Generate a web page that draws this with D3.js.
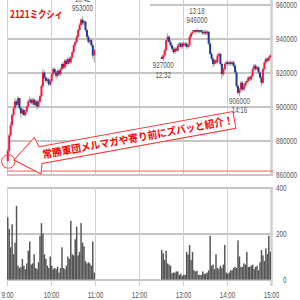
<!DOCTYPE html>
<html>
<head>
<meta charset="utf-8">
<script src="https://cdn.jsdelivr.net/npm/d3@7"></script>
<style>
body { margin: 0; background: #fff; }
svg { display: block; }
.ax text { font-family: "Liberation Sans", sans-serif; font-size: 8.5px; fill: #555; }
</style>
</head>
<body>
<script>
// measurements for the chart
const m = {
    width: 300,
    height: 300,
    left: 7,      // 9:00
    right: 271,   // 15:00
    priceTop: 4.5,
    priceBottom: 174.5,
    volTop: 187.5,
    volBottom: 279.5
}

// prices in thousands of yen, 2 minute candles
const barMinutes = 2
const amStart = 0     // minutes after 9:00
const pmStart = 210   // 12:30

const amOpen  = [868,874,883,889,895,899,903,901,905,899,896,898,895,897,900,903,904,902,904,901,903,900,903,906,912,920,917,915,916,913,915,919,922,920,918,921,919,922,925,923,927,925,928,926,929,932,936,938,941,945,948,951,949,950,945,941,938,939,936,930]
const amHigh  = [875,884,891,896,900,905,904,906,905,900,899,899,898,901,904,906,905,905,905,904,904,904,907,913,922,921,918,917,917,916,920,923,923,921,922,922,923,926,926,928,928,929,929,930,933,937,939,942,946,949,952,953,951,950,946,942,940,940,937,934]
const amLow   = [867,873,882,888,894,898,900,900,898,893,895,894,894,896,899,902,901,901,900,900,898,899,902,905,911,916,914,914,912,912,914,918,919,916,917,918,918,921,922,922,924,924,925,925,928,931,935,937,940,944,947,948,947,944,940,937,937,935,928,926]
const amClose = [874,883,889,895,899,903,901,905,899,896,898,895,897,900,903,904,902,904,901,903,900,903,906,912,920,917,915,916,913,915,919,922,920,918,921,919,922,925,923,927,925,928,926,929,932,936,938,941,945,948,951,949,950,945,941,938,939,936,930,933]
const amVolume = [270,220,140,240,110,160,320,60,50,55,90,60,45,70,125,165,65,70,110,50,45,75,190,245,200,110,90,60,50,100,60,45,50,45,55,30,50,140,50,45,60,100,90,255,110,105,175,230,105,120,245,160,145,80,70,75,70,60,165,30]

const pmOpen  = [929,928,930,933,939,941,938,936,934,932,934,933,936,937,935,937,936,937,935,936,941,943,944,945,944,945,944,945,944,943,944,943,944,937,931,928,925,927,926,930,931,925,919,922,925,926,925,926,925,926,924,920,912,908,910,914,910,912,914,915,917,916,918,922,924,922,923,920,917,914,922,926,928,927,929]
const pmHigh  = [930,931,934,939,943,942,939,937,935,935,935,937,938,938,938,938,938,938,937,942,944,945,945,945,946,945,945,945,945,945,945,945,944,938,932,929,928,928,931,932,931,926,923,926,927,927,927,927,927,927,925,921,913,911,915,915,913,915,916,918,918,919,923,925,925,924,924,921,918,923,927,929,929,930,931]
const pmLow   = [928,927,929,932,938,937,935,933,931,931,932,932,935,934,934,935,935,934,934,935,940,942,943,943,943,943,943,943,942,942,942,942,936,930,927,923,924,925,925,929,924,916,918,921,924,924,924,924,924,923,919,911,907,906,909,909,909,911,913,914,915,915,917,921,921,921,919,916,912,913,921,925,926,926,928]
const pmClose = [928,930,933,939,941,938,936,934,932,934,933,936,937,935,937,936,937,935,936,941,943,944,945,944,945,944,945,944,943,944,943,944,937,931,928,925,927,926,930,931,925,919,922,925,926,925,926,925,926,924,920,912,908,910,914,910,912,914,915,917,916,918,922,924,922,923,920,917,914,922,926,928,927,929,930]
const pmVolume = [128,114,85,125,70,65,60,27,30,30,35,35,20,25,15,20,20,120,108,150,85,120,40,35,38,20,20,20,35,25,25,30,40,190,60,65,45,110,50,45,60,50,65,150,30,25,30,40,40,50,55,50,170,100,55,55,70,65,120,55,55,60,65,45,55,60,40,75,128,105,80,135,110,190,120]

// axis ticks
const priceTicks = [860, 880, 900, 920, 940, 960]
const volumeTicks = [0, 200, 400]
const hourTicks = [0, 60, 120, 180, 240, 300, 360]
const hourLabels = ['9:00', '10:00', '11:00', '12:00', '13:00', '14:00', '15:00']
const refPrice = 862

// high / low marks
const markTimes = ['10:42', '13:18', '12:32', '14:16']
const markPrices = [953, 946, 927, 906]
const markSides = ['above', 'above', 'below', 'below']

const title = '2121ミクシィ'
const banner = '常勝軍団メルマガや寄り前にズバッと紹介！'

const candles = []
amOpen.forEach((o, i) => candles.push({ t: amStart + i * barMinutes, o, h: amHigh[i], l: amLow[i], c: amClose[i], v: amVolume[i] }))
pmOpen.forEach((o, i) => candles.push({ t: pmStart + i * barMinutes, o, h: pmHigh[i], l: pmLow[i], c: pmClose[i], v: pmVolume[i] }))

const svg = d3.select('body').append('svg')
    .attr('width', m.width)
    .attr('height', m.height)

// squeeze a text horizontally to a given width, around its own x
const squeeze = (sel, widthOf) => sel.each(function () {
    const s = this.textContent
    if (!s) return
    const k = widthOf(s) / this.getComputedTextLength()
    const x0 = +this.getAttribute('x') || 0
    d3.select(this).attr('transform', `translate(${x0},0) scale(${k},1) translate(${-x0},0)`)
})
// the narrow digits of the original
const digitWidth = s => {
    const colons = s.split(':').length - 1
    return (s.length - colons) * 3.5 + colons * 1.6
}

// scales
const x = d3.scaleLinear().domain([0, 360]).range([m.left, m.right])
const yPrice = d3.scaleLinear().domain([860, 960]).range([m.priceBottom, m.priceTop])
const yVol = d3.scaleLinear().domain([0, 400]).range([m.volBottom, m.volTop])
const bw = x(barMinutes) - x(0)

// horizontal grid + price labels
const gy1 = svg.append('g').attr('class', 'ax')
    .attr('transform', `translate(${m.right + 2},0)`)
    .call(d3.axisRight(yPrice).tickValues(priceTicks).tickSize(-(m.right + 2 - m.left)).tickPadding(3)
        .tickFormat(d => d * 1000))
const gy2 = svg.append('g').attr('class', 'ax')
    .attr('transform', `translate(${m.right + 2},0)`)
    .call(d3.axisRight(yVol).tickValues(volumeTicks).tickSize(-(m.right + 2 - m.left)).tickPadding(3)
        .tickFormat(d3.format('\u2007>3d')))
;[gy1, gy2].forEach(g => {
    g.select('.domain').remove()
    g.selectAll('line').attr('stroke', '#8c8c8c')
    squeeze(g.selectAll('text'), digitWidth)
})

// white title box over the top grid line
svg.append('rect')
    .attr('x', 0).attr('y', 0)
    .attr('width', 150).attr('height', 12)
    .attr('fill', '#fff')

// vertical grid, price panel
const gx1 = svg.append('g')
    .attr('transform', `translate(0,${m.priceBottom})`)
    .call(d3.axisBottom(x).tickValues(hourTicks).tickSize(-m.priceBottom).tickFormat(''))
// vertical grid + time labels, volume panel
const gx2 = svg.append('g').attr('class', 'ax')
    .attr('transform', `translate(0,286)`)
    .call(d3.axisBottom(x).tickValues(hourTicks).tickSize(-(286 - m.volTop)).tickPadding(6)
        .tickFormat((d, i) => hourLabels[i]))
;[gx1, gx2].forEach(g => {
    g.select('.domain').remove()
    g.selectAll('line')
        .attr('stroke', '#cfcfcf')
        .attr('stroke-width', d => d === 360 ? 2.5 : 1)
})
squeeze(gx2.selectAll('text'), digitWidth)

// reference line
svg.append('line')
    .attr('x1', m.left).attr('x2', m.right + 2)
    .attr('y1', yPrice(refPrice)).attr('y2', yPrice(refPrice))
    .attr('stroke', '#ff5a5a')

// volume bars
svg.append('g').selectAll('rect')
    .data(candles)
    .join('rect')
    .attr('x', d => x(d.t))
    .attr('y', d => yVol(d.v))
    .attr('width', bw)
    .attr('height', d => yVol(0) - yVol(d.v))
    .attr('fill', '#555')

// candles
const cg = svg.append('g')
cg.selectAll('line')
    .data(candles)
    .join('line')
    .attr('x1', d => x(d.t) + bw / 2).attr('x2', d => x(d.t) + bw / 2)
    .attr('y1', d => yPrice(d.h)).attr('y2', d => yPrice(d.l))
    .attr('stroke', '#8a8a8a')
    .attr('stroke-width', 0.8)
cg.selectAll('rect')
    .data(candles)
    .join('rect')
    .attr('x', d => x(d.t) + bw / 2 - 1)
    .attr('y', d => yPrice(Math.max(d.o, d.c)))
    .attr('width', 2)
    .attr('height', d => Math.max(1, Math.abs(yPrice(d.o) - yPrice(d.c))))
    .attr('fill', d => d.c >= d.o ? '#f8173f' : '#1c3a98')

// high / low marks
const toMin = s => { const [h, mm] = s.split(':').map(Number); return (h - 9) * 60 + mm }
const marks = markTimes.map((t, i) => ({ t, p: markPrices[i], side: markSides[i] }))
const mg = svg.append('g').attr('class', 'ax').attr('text-anchor', 'middle')
marks.forEach(d => {
    const cx = x(toMin(d.t)) + bw / 2
    const cy = yPrice(d.p)
    const first = d.side === 'above' ? d.t : d.p * 1000
    const second = d.side === 'above' ? d.p * 1000 : d.t
    const y0 = d.side === 'above' ? cy - 14.5 : cy + 7.5
    mg.append('text').attr('x', cx).attr('y', y0).text(first)
    mg.append('text').attr('x', cx).attr('y', y0 + 9.5).text(second)
})
squeeze(mg.selectAll('text'), digitWidth)

// title
svg.append('text')
    .attr('x', 10)
    .attr('y', 18.5)
    .attr('font-family', '"Noto Sans CJK JP", sans-serif')
    .attr('font-size', 10.5)
    .attr('font-weight', 'bold')
    .attr('fill', '#f00')
    .text(title)
    .call(sel => squeeze(sel, () => 53))

// circle + arrow banner
svg.append('circle')
    .attr('cx', 8.3).attr('cy', 161.5).attr('r', 6.7)
    .attr('fill', 'none').attr('stroke', '#f33')

const ban = svg.append('g').attr('transform', 'translate(14,160) rotate(-10.3)')
ban.append('path')
    .attr('d', 'M0,0 L24,-18.5 L27,-8.5 L224,-8.5 L224,8.5 L27,8.5 L24,18.5 Z')
    .attr('fill', '#fff')
    .attr('stroke', '#f33')
ban.append('text')
    .attr('x', 126)
    .attr('y', 0)
    .attr('dy', '0.36em')
    .attr('text-anchor', 'middle')
    .attr('font-family', '"Noto Sans CJK JP", sans-serif')
    .attr('font-size', 10.5)
    .attr('font-weight', 'bold')
    .attr('fill', '#f00')
    .text(banner)
    .call(sel => squeeze(sel, () => 194))
</script>
</body>
</html>
